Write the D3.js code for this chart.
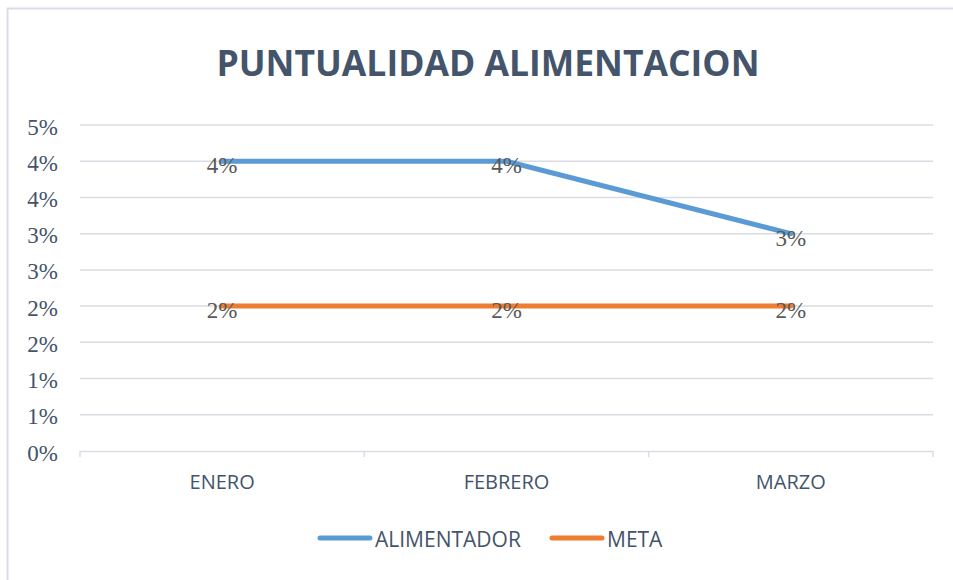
<!DOCTYPE html>
<html>
<head>
<meta charset="utf-8">
<script src="https://cdn.jsdelivr.net/npm/d3@7"></script>
<style>
  body { margin: 0; background: #fff; }
</style>
</head>
<body>
<div id="chart"></div>
<script>
// Data
var months = ["ENERO", "FEBRERO", "MARZO"];
var alimentador = [0.04, 0.04, 0.03];
var meta = [0.02, 0.02, 0.02];
var yTicks = [0, 0.005, 0.01, 0.015, 0.02, 0.025, 0.03, 0.035, 0.04, 0.045];
var seriesNames = ["ALIMENTADOR", "META"];

var width = 953, height = 580;
var margin = {top: 125, right: 20, bottom: 129, left: 80};
var textColor = "#44546a";
var colors = ["#5b9bd5", "#ed7d31"];

var svg = d3.select("#chart")
  .append("svg")
    .attr("width", width)
    .attr("height", height);

// Chart border
svg.append("rect")
  .attr("x", 7.5)
  .attr("y", 8.5)
  .attr("width", width + 10)
  .attr("height", height + 10)
  .attr("fill", "none")
  .attr("stroke", "#d9dde6")
  .attr("stroke-width", 2);

// Title
svg.append("text")
  .attr("x", 488)
  .attr("y", 76)
  .attr("text-anchor", "middle")
  .style("font-family", "'Open Sans', sans-serif")
  .style("font-weight", "bold")
  .style("font-size", "35.5px")
  .style("fill", textColor)
  .text("PUNTUALIDAD ALIMENTACION");

// Scales
var x = d3.scaleBand()
  .domain(months)
  .range([margin.left, width - margin.right]);

var y = d3.scaleLinear()
  .domain([0, 0.045])
  .range([height - margin.bottom, margin.top]);

// Gridlines
svg.append("g")
  .selectAll("line")
  .data(yTicks.slice(1))
  .enter().append("line")
    .attr("x1", margin.left)
    .attr("x2", width - margin.right)
    .attr("y1", d => y(d))
    .attr("y2", d => y(d))
    .attr("stroke", "#d9dde3")
    .attr("stroke-width", 1.5);

// Y axis labels
var y_axis = svg.append("g")
  .attr("transform", `translate(${margin.left - 22},0)`)
  .call(d3.axisLeft(y)
    .tickValues(yTicks)
    .tickSize(0)
    .tickPadding(0)
    .tickFormat(d3.format(".0%")));
y_axis.select(".domain").remove();
y_axis.selectAll("text")
  .attr("dy", "9px")
  .style("font-family", "'Liberation Serif', serif")
  .style("font-size", "23px")
  .style("fill", textColor);

// X axis
var x_axis = svg.append("g")
  .attr("transform", `translate(0,${y(0)})`)
  .call(d3.axisBottom(x).tickSize(0));
x_axis.select(".domain")
  .attr("stroke", "#d9dde3")
  .attr("stroke-width", 1.5);
x_axis.selectAll("text")
  .attr("y", 38)
  .attr("dy", 0)
  .style("font-family", "'Open Sans', sans-serif")
  .style("font-size", "20px")
  .style("fill", textColor);

// Category separator ticks
var bounds = months.map(m => x(m)).concat([x(months[months.length - 1]) + x.bandwidth()]);
svg.append("g")
  .selectAll("line")
  .data(bounds)
  .enter().append("line")
    .attr("x1", d => d)
    .attr("x2", d => d)
    .attr("y1", y(0))
    .attr("y2", y(0) + 6)
    .attr("stroke", "#d9dde3")
    .attr("stroke-width", 1.5);

// Lines
var line = d3.line()
  .x((d, i) => x(months[i]) + x.bandwidth() / 2)
  .y(d => y(d));

[alimentador, meta].forEach(function(series, k) {
  svg.append("path")
    .datum(series)
    .attr("fill", "none")
    .attr("stroke", colors[k])
    .attr("stroke-width", 5)
    .attr("stroke-linecap", "round")
    .attr("stroke-linejoin", "round")
    .attr("d", line);
});

// Data labels
[alimentador, meta].forEach(function(series) {
  svg.append("g")
    .selectAll("text")
    .data(series)
    .enter().append("text")
      .attr("x", (d, i) => x(months[i]) + x.bandwidth() / 2)
      .attr("y", d => y(d) + 12)
      .attr("text-anchor", "middle")
      .style("font-family", "'Liberation Serif', serif")
      .style("font-size", "23px")
      .style("fill", "#595959")
      .text(d => d3.format(".0%")(d));
});

// Legend
var legendX = [318, 550];
var legend = svg.append("g");
seriesNames.forEach(function(name, k) {
  legend.append("line")
    .attr("x1", legendX[k] + 2)
    .attr("x2", legendX[k] + 52)
    .attr("y1", 538)
    .attr("y2", 538)
    .attr("stroke", colors[k])
    .attr("stroke-width", 5)
    .attr("stroke-linecap", "round");
  legend.append("text")
    .attr("x", legendX[k] + 57)
    .attr("y", 547)
    .style("font-family", "'Open Sans', sans-serif")
    .style("font-size", "21px")
    .style("fill", textColor)
    .text(name);
});
</script>
</body>
</html>
